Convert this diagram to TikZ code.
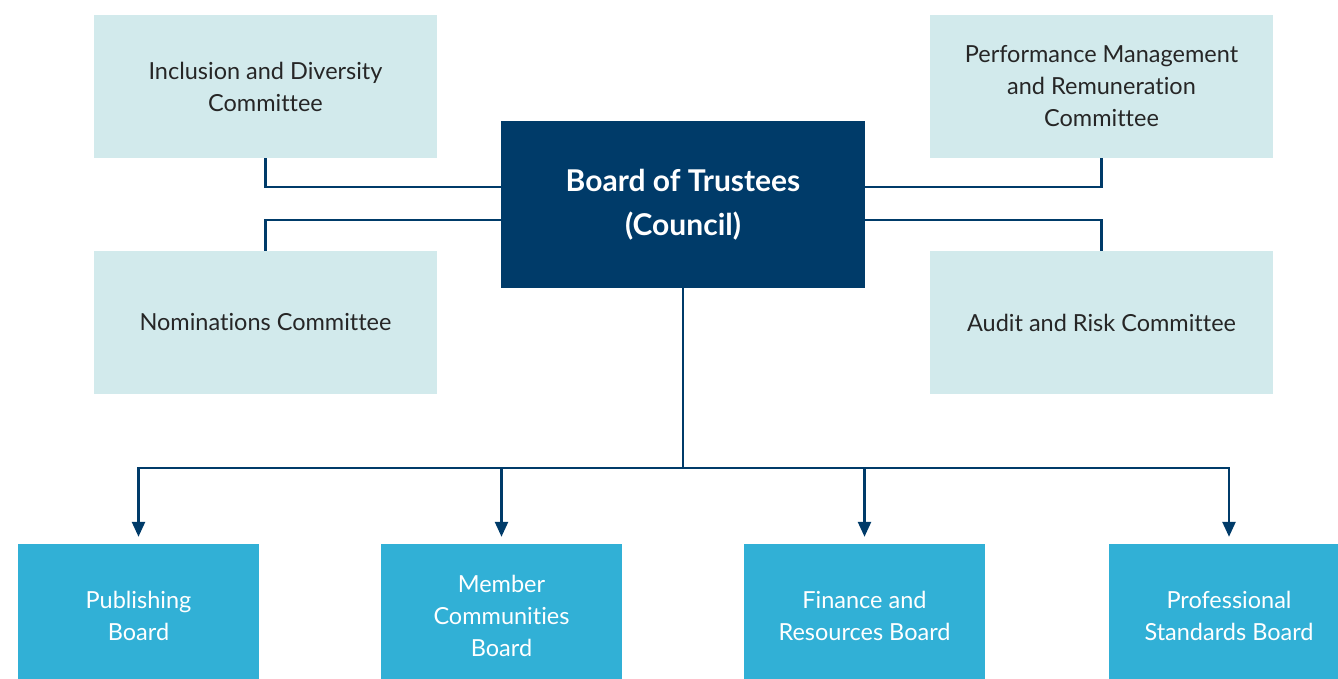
\documentclass[tikz,border=0pt]{standalone}
\usepackage{fontspec}
\setmainfont[Ligatures=NoCommon]{Lato}
\usepackage{tikz}
\usetikzlibrary{arrows.meta}
\definecolor{navy}{HTML}{003B69}
\definecolor{pale}{HTML}{D2EAEC}
\definecolor{sky}{HTML}{31B0D6}
\tikzset{
    every node/.style={align=center,inner sep=0pt,},
    committee/.style={rectangle,fill=pale,minimum width=343pt,minimum height=143pt,
        font=\fontsize{23.5}{32}\selectfont,text=black!85},
    board/.style={rectangle,fill=sky,minimum width=241pt,minimum height=144pt,
        font=\fontsize{23.5}{32}\selectfont,text=white},
    council/.style={rectangle,fill=navy,minimum width=364pt,minimum height=167pt,
        font=\fontsize{30}{44}\selectfont\bfseries,text=white},
    link/.style={draw=navy,line width=2.5pt},
}

\begin{document}
\begin{tikzpicture}[x=1pt,y=-1pt]
                \useasboundingbox (0,0) rectangle (1338,679);

                \node[council] (trustees) at (683, 204.5) {Board of Trustees\\(Council)};

                \node[committee] (inclusion) at (265.5, 86.5) {Inclusion and Diversity\\Committee};
                \node[committee] (nominations) at (265.5, 322.5) {Nominations Committee};
                \node[committee] (performance) at (1101.5, 86.5) {Performance Management\\and Remuneration\\Committee};
                \node[committee] (audit) at (1101.5, 322.5) {Audit and Risk Committee};

                \node[board] (publishing) at (138.5, 616) {Publishing\\Board};
                \node[board] (members) at (501.5, 616) {Member\\Communities\\Board};
                \node[board] (finance) at (864.5, 616) {Finance and\\Resources Board};
                \node[board] (standards) at (1229, 616) {Professional\\Standards Board};

                \draw[link] ([yshift=17.5pt]trustees.west) -| (inclusion);
                \draw[link] ([yshift=-15.5pt]trustees.west) -| (nominations);
                \draw[link] ([yshift=17.5pt]trustees.east) -| (performance);
                \draw[link] ([yshift=-15.5pt]trustees.east) -| (audit);

                \coordinate (bus) at (683, 468);
                \draw[link] (trustees) -- (bus);
                \draw[link,-{Triangle[width=13pt,length=15pt]},shorten >=7pt] (bus) -| (publishing);
                \draw[link,-{Triangle[width=13pt,length=15pt]},shorten >=7pt] (bus) -| (members);
                \draw[link,-{Triangle[width=13pt,length=15pt]},shorten >=7pt] (bus) -| (finance);
                \draw[link,-{Triangle[width=13pt,length=15pt]},shorten >=7pt] (bus) -| (standards);
            \end{tikzpicture}
\end{document}
